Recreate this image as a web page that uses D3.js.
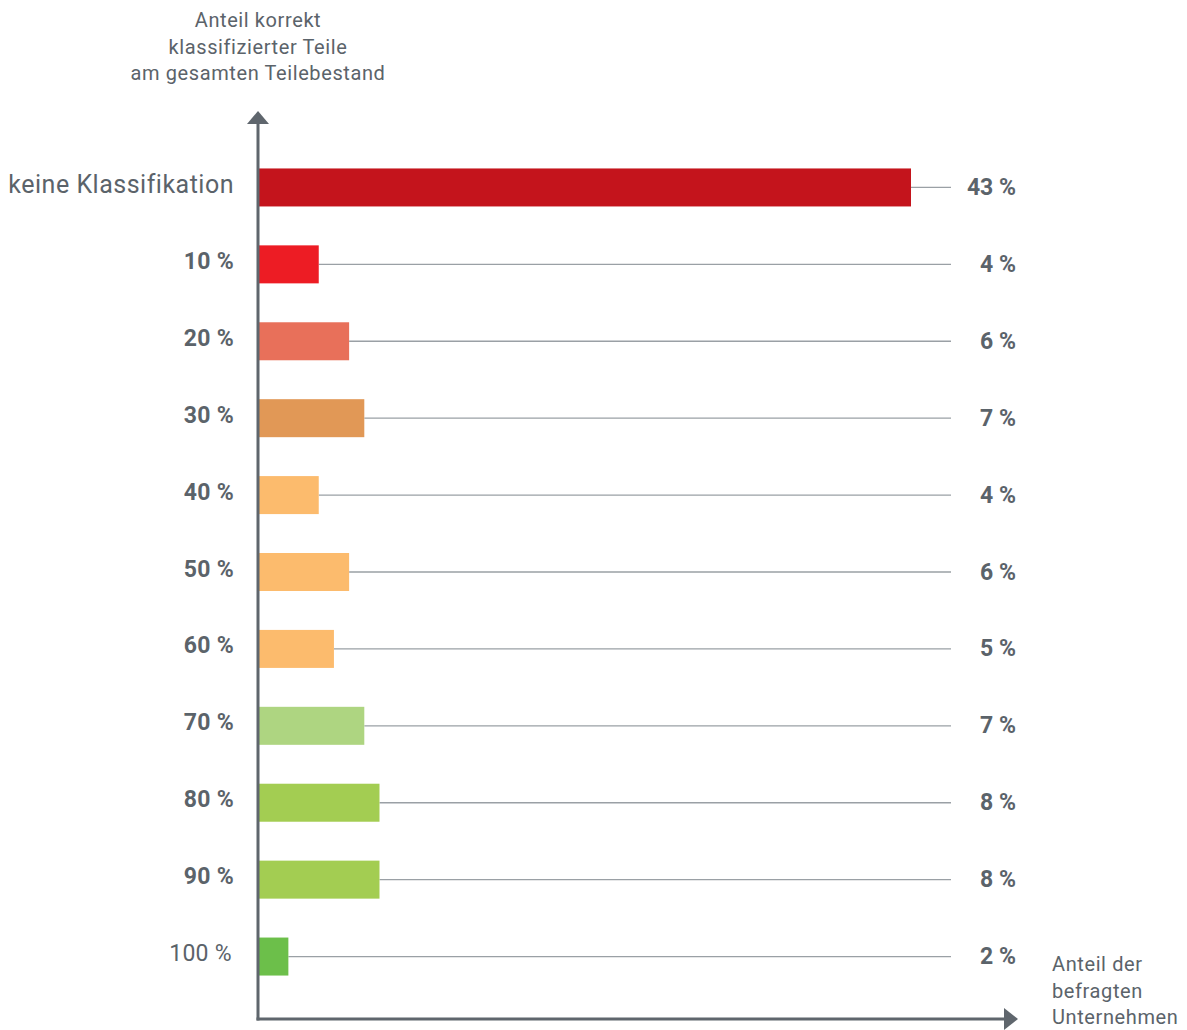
<!DOCTYPE html>
<html>
<head>
<meta charset="utf-8">
<script src="https://cdn.jsdelivr.net/npm/d3@7"></script>
<style>
  html, body { margin: 0; padding: 0; background: #fff; }
  svg { display: block; font-family: Roboto, "Noto Sans", sans-serif; }
</style>
</head>
<body>
<svg id="chart" width="1187" height="1030"></svg>
<script>
// Share of correctly classified parts vs. share of surveyed companies
const categories = ["keine Klassifikation", "10 %", "20 %", "30 %", "40 %", "50 %", "60 %", "70 %", "80 %", "90 %", "100 %"];
const values = [43, 4, 6, 7, 4, 6, 5, 7, 8, 8, 2];
const valueLabels = ["43 %", "4 %", "6 %", "7 %", "4 %", "6 %", "5 %", "7 %", "8 %", "8 %", "2 %"];
const colors = ["#c4141c", "#ed1c24", "#e8705a", "#e19856", "#fcbb6d", "#fcbb6d", "#fcbb6d", "#aed581", "#a3cd52", "#a3cd52", "#6cbf4a"];
const yTitle = ["Anteil korrekt", "klassifizierter Teile", "am gesamten Teilebestand"];
const xTitle = ["Anteil der", "befragten", "Unternehmen"];

const svg = d3.select("#chart");
const ink = "#5b636a";
const axisColor = "#5f666d";

const x0 = 258, axisBottom = 1019;
const x = d3.scaleLinear().domain([0, 43]).range([x0, 911]);
const y = d3.scaleBand().domain(categories).range([149, 995]).paddingInner(0.5).paddingOuter(0.25);
const bh = 38;
const yc = c => y(c) + y.bandwidth() / 2;

// leader lines
svg.append("g").selectAll("line").data(categories).join("line")
  .attr("x1", (c, i) => x(values[i])).attr("x2", 951)
  .attr("y1", c => yc(c)).attr("y2", c => yc(c))
  .attr("stroke", "#9aa0a5").attr("stroke-width", 1.3);

// bars
svg.append("g").selectAll("rect").data(categories).join("rect")
  .attr("x", x0).attr("y", c => yc(c) - bh / 2)
  .attr("width", (c, i) => x(values[i]) - x0).attr("height", bh)
  .attr("fill", (c, i) => colors[i]);

// category labels
svg.append("g").selectAll("text").data(categories).join("text")
  .attr("x", (c, i) => i === 10 ? 232 : 234)
  .attr("y", c => yc(c) - 3)
  .attr("text-anchor", "end").attr("dominant-baseline", "central")
  .attr("fill", ink)
  .attr("font-size", (c, i) => i === 0 ? 25 : 23)
  .attr("letter-spacing", (c, i) => i === 0 ? 0.5 : 0.3)
  .attr("font-weight", (c, i) => (i === 0 || i === 10) ? 400 : 700)
  .text(c => c);

// value labels
svg.append("g").selectAll("text").data(valueLabels).join("text")
  .attr("x", 1016).attr("y", (d, i) => yc(categories[i]))
  .attr("text-anchor", "end").attr("dominant-baseline", "central")
  .attr("fill", ink).attr("font-size", 23).attr("font-weight", 700)
  .text(d => d);

// axes with arrowheads
svg.append("line").attr("x1", x0).attr("x2", x0).attr("y1", 122).attr("y2", axisBottom + 1.5)
  .attr("stroke", axisColor).attr("stroke-width", 3);
svg.append("line").attr("x1", x0 - 1.5).attr("x2", 1006).attr("y1", axisBottom).attr("y2", axisBottom)
  .attr("stroke", axisColor).attr("stroke-width", 3);
svg.append("path").attr("d", `M${x0 - 11},124 L${x0},111 L${x0 + 11},124 Z`).attr("fill", axisColor);
svg.append("path").attr("d", `M1004,${axisBottom - 11} L1018,${axisBottom} L1004,${axisBottom + 11} Z`).attr("fill", axisColor);

// axis titles
svg.append("text").attr("x", 258).attr("y", 27).attr("text-anchor", "middle")
  .attr("fill", ink).attr("font-size", 20).attr("letter-spacing", 0.6)
  .selectAll("tspan").data(yTitle).join("tspan")
  .attr("x", 258).attr("dy", (d, i) => i ? 26.5 : 0).text(d => d);
svg.append("text").attr("x", 1052).attr("y", 971)
  .attr("fill", ink).attr("font-size", 20).attr("letter-spacing", 0.6)
  .selectAll("tspan").data(xTitle).join("tspan")
  .attr("x", 1052).attr("dy", (d, i) => i ? 26.5 : 0).text(d => d);
</script>
</body>
</html>
